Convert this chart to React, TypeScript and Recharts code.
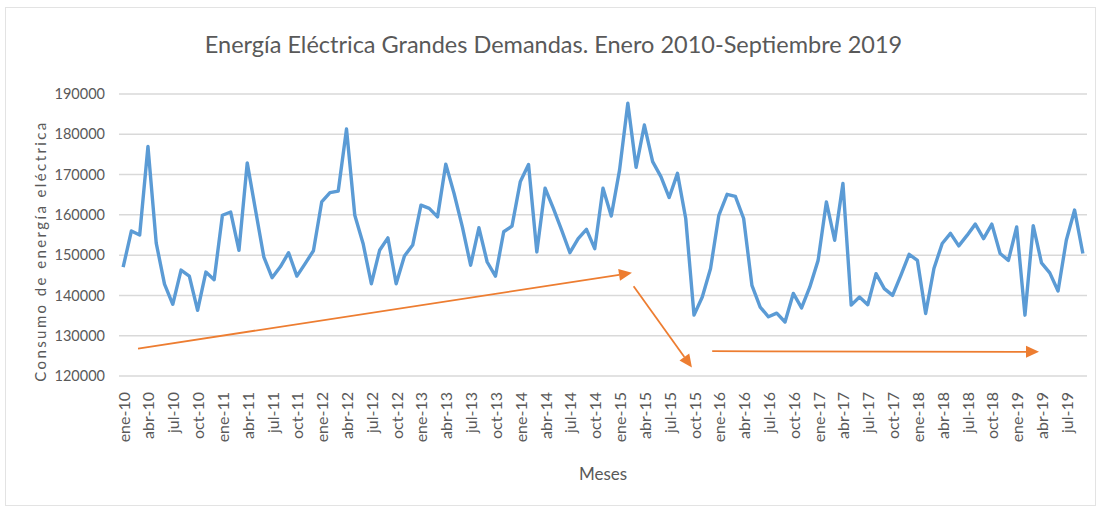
import React from 'react';
import { LineChart, Line, XAxis, YAxis, CartesianGrid, ReferenceLine } from 'recharts';

// month abbreviations used for the tick labels
const monthNames = ['ene', 'feb', 'mar', 'abr', 'may', 'jun', 'jul', 'ago', 'sep', 'oct', 'nov', 'dic'];
const years = ['10', '11', '12', '13', '14', '15', '16', '17', '18', '19'];

// Consumo de energía eléctrica, enero 2010 - septiembre 2019
const consumo = [
  147000, 156000, 155000, 177000, 153000, 142800, 137800, 146300, 144800, 136300, 145800, 143900,
  159900, 160700, 151200, 172900, 161200, 149600, 144400, 147100, 150600, 144800, 147900, 151100,
  163200, 165500, 165900, 181300, 159900, 152900, 142900, 151200, 154300, 142900, 149800, 152500,
  162400, 161600, 159500, 172600, 165300, 157000, 147500, 156800, 148300, 144800, 155800, 157200,
  168200, 172500, 150800, 166600, 161600, 156200, 150600, 154100, 156400, 151600, 166600, 159700,
  171100, 187700, 171800, 182300, 173200, 169500, 164300, 170300, 159100, 135100, 139600, 146700,
  159900, 165100, 164600, 159100, 142500, 137100, 134700, 135600, 133400, 140500, 136900, 142100,
  148700, 163200, 153700, 167800, 137600, 139600, 137700, 145400, 141700, 140000, 145000, 150200,
  148700, 135500, 146700, 152900, 155400, 152300, 154900, 157700, 154100, 157700, 150400, 148700,
  157000, 135100, 157300, 148100, 145600, 141100, 153700, 161200, 150400,
];

const yTicks = [120000, 130000, 140000, 150000, 160000, 170000, 180000, 190000];

// orange trend arrows, in (month index, consumo) coordinates
const trendArrows = [
  { from: [1.8, 126800], to: [61.5, 145600] },
  { from: [61.7, 142300], to: [68.75, 122100] },
  { from: [71.2, 126150], to: [110.7, 126000] },
];

const labels = consumo.map((_, i) => `${monthNames[i % 12]}-${years[Math.floor(i / 12)]}`);
const data = consumo.map((v, i) => ({ idx: i, mes: labels[i], consumo: v }));
const xTicks = labels.map((_, i) => i).filter((i) => i % 3 === 0);

const FONT = 'Lato, "Open Sans", sans-serif';
const GREY = '#595959';

const Arrow = (props: any) => {
  const { x1, y1, x2, y2 } = props;
  const ang = Math.atan2(y2 - y1, x2 - x1);
  const len = 13;
  const half = 6;
  const bx = x2 - len * Math.cos(ang);
  const by = y2 - len * Math.sin(ang);
  const px = -Math.sin(ang) * half;
  const py = Math.cos(ang) * half;
  return (
    <g>
      <line x1={x1} y1={y1} x2={bx} y2={by} stroke="#ED7D31" strokeWidth={1.8} />
      <polygon points={`${x2},${y2} ${bx + px},${by + py} ${bx - px},${by - py}`} fill="#ED7D31" />
    </g>
  );
};

const MonthTick = (props: any) => {
  const { x, y, payload } = props;
  return (
    <text
      transform={`translate(${x},${y}) rotate(-90)`}
      textAnchor="end"
      dominantBaseline="central"
      fill={GREY}
      fontSize={16}
      fontFamily={FONT}
    >
      {labels[payload.value]}
    </text>
  );
};

export default function App() {
  return (
    <div style={{ position: 'absolute', left: 0, top: 0, width: 1097, height: 512, background: '#fff', fontFamily: FONT }}>
      <div style={{ position: 'absolute', left: 5, top: 7, width: 1089, height: 497, border: '1px solid #E3E3E3' }} />
      <div
        style={{
          position: 'absolute',
          left: 0,
          width: 1107,
          top: 30,
          textAlign: 'center',
          fontSize: 23.5,
          color: GREY,
          lineHeight: '28px',
        }}
      >
        Energía Eléctrica Grandes Demandas. Enero 2010-Septiembre 2019
      </div>
      <div
        style={{
          position: 'absolute',
          left: 40,
          top: 251,
          transform: 'translate(-50%, -50%) rotate(-90deg)',
          whiteSpace: 'nowrap',
          fontSize: 15,
          letterSpacing: 2.4,
          color: GREY,
        }}
      >
        Consumo de energía eléctrica
      </div>
      <div style={{ position: 'absolute', left: 553, width: 100, top: 463, textAlign: 'center', fontSize: 17, color: GREY }}>
        Meses
      </div>
      <LineChart
        width={1097}
        height={512}
        data={data}
        margin={{ top: 94, right: 10, left: 0, bottom: 0 }}
        style={{ position: 'absolute', left: 0, top: 0 }}
      >
        <CartesianGrid vertical={false} stroke="#D9D9D9" strokeWidth={1.5} />
        <XAxis
          dataKey="idx"
          type="number"
          domain={[-0.5, 116.5]}
          ticks={xTicks}
          interval={0}
          height={136}
          tickLine={false}
          axisLine={false}
          tickSize={6}
          tickMargin={10}
          tick={<MonthTick />}
        />
        <YAxis
          domain={[120000, 190000]}
          ticks={yTicks}
          width={119}
          tickLine={false}
          axisLine={false}
          tickSize={6}
          tickMargin={8}
          tick={{ fill: GREY, fontSize: 14.5, fontFamily: FONT }}
        />
        <Line
          type="linear"
          dataKey="consumo"
          stroke="#5B9BD5"
          strokeWidth={3.4}
          strokeLinejoin="round"
          dot={false}
          isAnimationActive={false}
        />
        {trendArrows.map((a, i) => (
          <ReferenceLine
            key={i}
            segment={[
              { x: a.from[0], y: a.from[1] },
              { x: a.to[0], y: a.to[1] },
            ]}
            ifOverflow="visible"
            shape={<Arrow />}
          />
        ))}
      </LineChart>
    </div>
  );
}
